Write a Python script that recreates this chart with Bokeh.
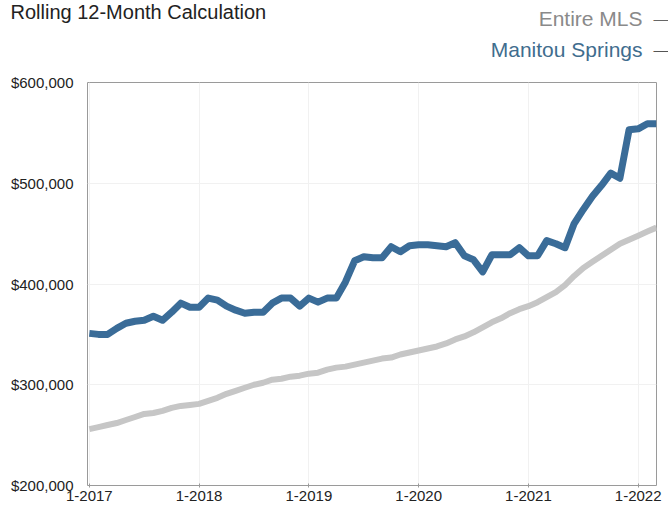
from bokeh.plotting import figure
from bokeh.models import Range1d, FixedTicker, NumeralTickFormatter, Title
from bokeh.embed import file_html
from bokeh.resources import INLINE

# ---- data (monthly, Jan 2017 .. Mar 2022) ----
months = list(range(63))
manitou = [351, 350, 350, 356, 361, 363, 364, 368, 364, 372,
           381, 377, 377, 386, 384, 378, 374, 371, 372, 372,
           381, 386, 386, 378, 386, 382, 386, 386, 402, 423,
           427, 426, 426, 437, 432, 438, 439, 439, 438, 437,
           441, 428, 424, 412, 429, 429, 429, 436, 428, 428,
           443, 440, 436, 460, 474, 487, 498, 510, 505, 553,
           554, 559, 559]
entire_mls = [256, 258, 260, 262, 265, 268, 271, 272, 274, 277,
              279, 280, 281, 284, 287, 291, 294, 297, 300, 302,
              305, 306, 308, 309, 311, 312, 315, 317, 318, 320,
              322, 324, 326, 327, 330, 332, 334, 336, 338, 341,
              345, 348, 352, 357, 362, 366, 371, 375, 378, 382,
              387, 392, 399, 408, 416, 422, 428, 434, 440, 444,
              448, 452, 456]
manitou = [v * 1000 for v in manitou]
entire_mls = [v * 1000 for v in entire_mls]

x_tick_pos = [0, 12, 24, 36, 48, 60]
x_tick_labels = ["1-2017", "1-2018", "1-2019", "1-2020", "1-2021", "1-2022"]
y_ticks = [200000, 300000, 400000, 500000, 600000]

title_text = "Rolling 12-Month Calculation"
legend_names = ["Entire MLS", "Manitou Springs"]
legend_colors = ["#8a8a8a", "#3f6d8e"]

FONT = "Liberation Sans"
W, H = 668, 510
L, R, T, B = 87, 12, 82, 25

p = figure(width=W, height=H, output_backend="svg", toolbar_location=None,
           title=None,
           x_range=Range1d(-0.2, 62), y_range=Range1d(200000, 600000),
           min_border_left=L, min_border_right=R, min_border_top=T,
           min_border_bottom=B)
p.background_fill_color = "white"
p.border_fill_color = "white"
p.outline_line_color = "#9a9a9a"
p.outline_line_width = 1


def head(text, standoff, align="right", offset=14, size="21px",
         color="#222222", valign="bottom"):
    p.add_layout(Title(text=text, align=align, offset=offset, standoff=standoff,
                       vertical_align=valign, text_font=FONT,
                       text_font_size=size, text_font_style="normal",
                       text_color=color), "above")


# rows of the header, listed from the frame outward
head(" ", 10, size="20px")                                 # spacer
head(legend_names[1], -25, color=legend_colors[1])         # Manitou Springs
head("\u2014", -18, offset=-12, size="15px", color="#555555")
head(" ", 6, size="20px")                                  # spacer
head(legend_names[0], -25, color=legend_colors[0])         # Entire MLS
head("\u2014", -18, offset=-12, size="15px", color="#666666")
head(title_text, -16, align="left", offset=-77, size="20px", valign="top")

p.xgrid.ticker = FixedTicker(ticks=x_tick_pos)
p.ygrid.ticker = FixedTicker(ticks=y_ticks)
p.xgrid.grid_line_color = "#f1f1f1"
p.ygrid.grid_line_color = "#f1f1f1"

p.xaxis.ticker = FixedTicker(ticks=x_tick_pos)
p.xaxis.major_label_overrides = {t: l for t, l in zip(x_tick_pos, x_tick_labels)}
p.xaxis.axis_line_color = None
p.xaxis.major_tick_line_color = "#9a9a9a"
p.xaxis.major_tick_in = 2
p.xaxis.major_tick_out = 2
p.xaxis.minor_tick_line_color = None
p.xaxis.major_label_standoff = 3
p.xaxis.major_label_text_font = FONT
p.xaxis.major_label_text_font_size = "15px"
p.xaxis.major_label_text_color = "#222222"

p.yaxis.ticker = FixedTicker(ticks=y_ticks)
p.yaxis.formatter = NumeralTickFormatter(format="$0,0")
p.yaxis.axis_line_color = None
p.yaxis.major_tick_line_color = None
p.yaxis.major_tick_in = 0
p.yaxis.major_tick_out = 0
p.yaxis.minor_tick_line_color = None
p.yaxis.major_label_standoff = 14
p.yaxis.major_label_text_font = FONT
p.yaxis.major_label_text_font_size = "15px"
p.yaxis.major_label_text_color = "#222222"

p.line(months, entire_mls, line_color="#c6c6c6", line_width=6, line_join="round")
p.line(months, manitou, line_color="#3a6c98", line_width=7, line_join="round")

open("out.html", "w").write(file_html(p, INLINE))
